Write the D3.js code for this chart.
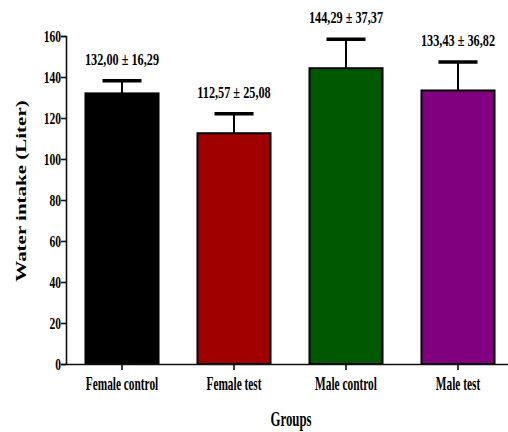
<!DOCTYPE html>
<html>
<head>
<meta charset="utf-8">
<script src="https://cdn.jsdelivr.net/npm/d3@7/dist/d3.min.js"></script>
<style>
  html, body { margin: 0; padding: 0; background: #fff; }
  svg { display: block; }
  text { font-family: "Liberation Serif", "Times New Roman", serif; font-weight: bold; fill: #000; }
</style>
</head>
<body>
<svg id="chart" width="508" height="432"></svg>
<script>
// ---- data ----
const categories = ["Female control", "Female test", "Male control", "Male test"];
const means = [132.00, 112.57, 144.29, 133.43];
const errors = [6.2, 9.5, 14.1, 13.9];           // plotted error bars
const labels = ["132,00 \u00b1 16,29", "112,57 \u00b1 25,08", "144,29 \u00b1 37,37", "133,43 \u00b1 36,82"];
const colors = ["#000000", "#a00000", "#005800", "#800080"];
const yTicks = [0, 20, 40, 60, 80, 100, 120, 140, 160];

// ---- layout ----
const svg = d3.select("#chart");
const mLeft = 66, mRight = 514, mTop = 36, mBottom = 364;
const sx = 0.7; // horizontal squeeze of the text

const x = d3.scaleBand().domain(categories).range([mLeft, mRight])
  .paddingInner(0.33).paddingOuter(0.165);
const y = d3.scaleLinear().domain([0, 160]).range([mBottom, mTop]);

// bars
svg.selectAll("rect.bar").data(categories).enter().append("rect")
  .attr("class", "bar")
  .attr("x", d => x(d) + 1)
  .attr("y", (d, i) => y(means[i]))
  .attr("width", x.bandwidth() - 2)
  .attr("height", (d, i) => y(0) - y(means[i]))
  .attr("fill", (d, i) => colors[i])
  .attr("stroke", "#000")
  .attr("stroke-width", 2);

// error bars (upper only)
const cx = d => x(d) + x.bandwidth() / 2;
svg.selectAll("line.stem").data(categories).enter().append("line")
  .attr("x1", cx).attr("x2", cx)
  .attr("y1", (d, i) => y(means[i]))
  .attr("y2", (d, i) => y(means[i] + errors[i]))
  .attr("stroke", "#000").attr("stroke-width", 2);
svg.selectAll("line.cap").data(categories).enter().append("line")
  .attr("x1", d => cx(d) - 19.5).attr("x2", d => cx(d) + 19.5)
  .attr("y1", (d, i) => y(means[i] + errors[i]))
  .attr("y2", (d, i) => y(means[i] + errors[i]))
  .attr("stroke", "#000").attr("stroke-width", 3.5);

// value labels
svg.selectAll("text.val").data(categories).enter().append("text")
  .attr("class", "val")
  .attr("text-anchor", "middle")
  .attr("font-size", 17.5)
  .attr("transform", (d, i) => `translate(${cx(d)},${y(means[i] + errors[i]) - 16}) scale(${sx},1)`)
  .text((d, i) => labels[i]);

// y axis
const yAxis = svg.append("g").attr("transform", `translate(${mLeft},0)`)
  .call(d3.axisLeft(y).tickValues(yTicks).tickSize(5).tickPadding(2).tickFormat(d3.format("d")));
yAxis.select(".domain").attr("stroke", "#111").attr("stroke-width", 1.6);
yAxis.selectAll(".tick line").attr("stroke", "#111").attr("stroke-width", 1.6);
yAxis.selectAll(".tick text")
  .attr("font-family", "Liberation Serif").attr("font-weight", "bold")
  .attr("font-size", 16.5).attr("fill", "#000")
  .attr("transform", `scale(${sx},1)`);

// x axis
const xAxis = svg.append("g").attr("transform", `translate(0,${mBottom})`)
  .call(d3.axisBottom(x).tickSize(6).tickPadding(7).tickSizeOuter(0));
xAxis.select(".domain").attr("stroke", "#111").attr("stroke-width", 1.6);
xAxis.selectAll(".tick line").attr("stroke", "#111").attr("stroke-width", 1.6);
xAxis.selectAll(".tick text")
  .attr("font-family", "Liberation Serif").attr("font-weight", "bold")
  .attr("font-size", 18).attr("fill", "#000")
  .attr("transform", `scale(0.63,1)`);

// axis titles
svg.append("text")
  .attr("text-anchor", "middle")
  .attr("font-size", 20)
  .attr("transform", `translate(291,426) scale(0.64,1)`)
  .text("Groups");
svg.append("text")
  .attr("text-anchor", "middle")
  .attr("font-size", 21)
  .attr("transform", `translate(25.5,191) scale(${sx},1) rotate(-90)`)
  .text("Water intake (Liter)");
</script>
</body>
</html>
